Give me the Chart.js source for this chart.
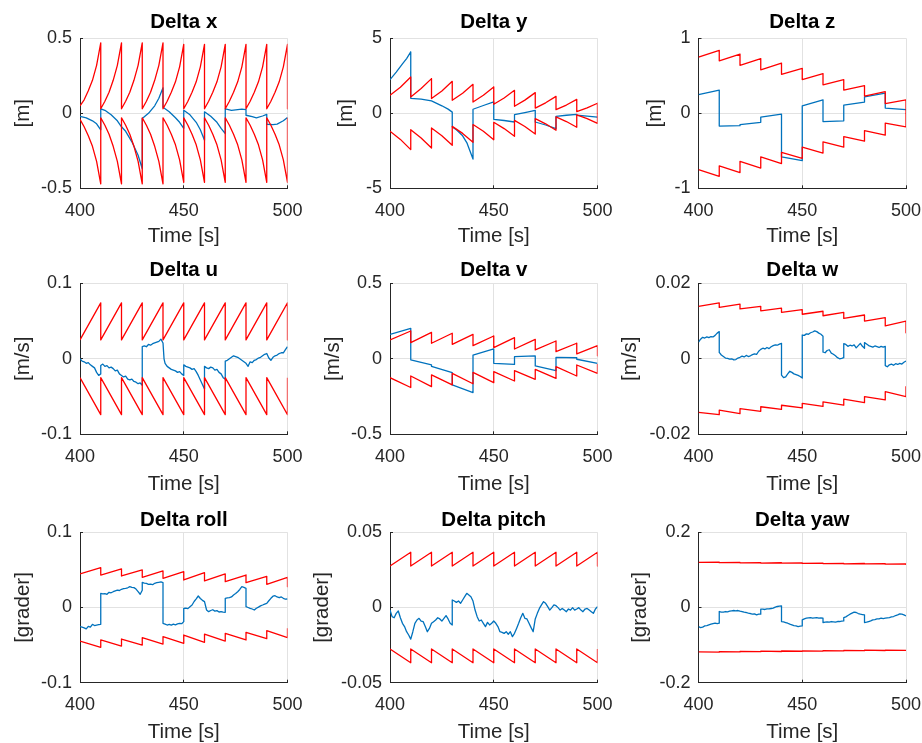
<!DOCTYPE html>
<html>
<head>
<meta charset="utf-8">
<script src="https://cdn.jsdelivr.net/npm/chart.js@4.4.0/dist/chart.umd.min.js"></script>
<style>
  html, body { margin: 0; padding: 0; background: #ffffff; overflow: hidden; }
  #fig { position: relative; width: 922px; height: 743px; overflow: hidden; background: #ffffff; }
  #fig canvas { position: absolute; }
</style>
</head>
<body>
<div id="fig"></div>
<script>
// ---------------- shared axes ----------------
const xTicks = [400, 450, 500];
const xTickText = ['400', '450', '500'];

// time base of the piecewise-linear bounds: start/end of every 10 s window, reset at each step
const tSaw = [400,410, 410,420, 420,430, 430,440, 440,450, 450,460, 460,470, 470,480, 480,490, 490,500, 500];
// finer time base for the curved position bounds
const tSawX = [400,402,404,406,408,410, 410,412,414,416,418,420, 420,422,424,426,428,430,
               430,432,434,436,438,440, 440,442,444,446,448,450, 450,452,454,456,458,460,
               460,462,464,466,468,470, 470,472,474,476,478,480, 480,482,484,486,488,490,
               490,492,494,496,498,500, 500];
const tSawY = [400,405,410, 410,415,420, 420,425,430, 430,435,440, 440,445,450,
               450,455,460, 460,465,470, 470,475,480, 480,485,490, 490,495,500, 500];

// ---------------- Delta x [m] ----------------
const xUp = [0.05,0.09,0.15,0.22,0.32,0.47, 0.03,0.08,0.14,0.22,0.32,0.47, 0.03,0.08,0.14,0.22,0.32,0.47,
             0.03,0.08,0.14,0.22,0.32,0.47, 0.03,0.08,0.14,0.21,0.31,0.46, 0.03,0.08,0.14,0.21,0.31,0.46,
             0.03,0.08,0.14,0.21,0.31,0.46, 0.03,0.08,0.14,0.21,0.31,0.46, 0.03,0.08,0.14,0.21,0.31,0.46,
             0.03,0.08,0.14,0.21,0.31,0.46, 0.03];
const xLo = [-0.04,-0.09,-0.15,-0.22,-0.32,-0.47, -0.03,-0.08,-0.14,-0.22,-0.32,-0.47, -0.03,-0.08,-0.14,-0.22,-0.32,-0.47,
             -0.03,-0.08,-0.14,-0.22,-0.32,-0.47, -0.03,-0.08,-0.14,-0.21,-0.31,-0.46, -0.03,-0.08,-0.14,-0.21,-0.31,-0.46,
             -0.03,-0.08,-0.14,-0.21,-0.31,-0.46, -0.03,-0.08,-0.14,-0.21,-0.31,-0.46, -0.03,-0.08,-0.14,-0.21,-0.31,-0.46,
             -0.03,-0.08,-0.14,-0.21,-0.31,-0.46, -0.03];
const xEst = [[400,-0.02],[403,-0.03],[406,-0.05],[408,-0.07],[410,-0.11],
  [410,0.03],[412,0.02],[415,-0.01],[418,-0.05],[420,-0.09],[422,-0.12],[425,-0.19],[428,-0.28],[430,-0.37],
  [430,-0.035],[433,0.0],[436,0.05],[438,0.10],[440,0.17],
  [440,0.04],[443,0.01],[446,-0.03],[448,-0.06],[450,-0.10],
  [450,0.02],[453,-0.01],[456,-0.06],[458,-0.11],[460,-0.18],
  [460,0.01],[463,-0.02],[466,-0.06],[468,-0.10],[470,-0.135],
  [470,0.03],[473,0.02],[476,0.025],[478,0.028],[480,0.025],
  [480,-0.013],[483,-0.022],[485,-0.03],[488,-0.018],[490,-0.007],
  [490,-0.073],[493,-0.075],[495,-0.072],[498,-0.05],[500,-0.028]];

// ---------------- Delta y [m] ----------------
const yUp = [1.20,1.74,2.42, 1.09,1.65,2.31, 0.98,1.49,2.13, 0.87,1.34,1.93, 0.75,1.20,1.76,
             0.60,1.02,1.53, 0.47,0.88,1.38, 0.35,0.70,1.13, 0.24,0.55,0.93, 0.11,0.36,0.67, 0.0];
const yLo = [-1.20,-1.74,-2.42, -1.09,-1.65,-2.31, -0.98,-1.49,-2.13, -0.87,-1.34,-1.93, -0.75,-1.20,-1.76,
             -0.60,-1.02,-1.53, -0.47,-0.88,-1.38, -0.35,-0.70,-1.13, -0.24,-0.55,-0.93, -0.11,-0.36,-0.67, 0.0];
const yEst = [[400,2.24],[403,2.75],[406,3.3],[408,3.65],[410,4.09],
  [410,1.0],[415,0.95],[420,0.83],[422,0.70],[425,0.50],[428,0.28],[430,0.08],
  [430,-0.91],[432,-1.1],[435,-1.5],[437,-1.95],[440,-3.05],
  [440,0.27],[445,0.52],[450,0.76],
  [450,-0.40],[455,-0.48],[460,-0.58],
  [460,-0.09],[465,0.05],[470,0.20],
  [470,-0.58],[475,-0.78],[480,-1.02],
  [480,-0.20],[485,-0.13],[490,-0.07],
  [490,-0.13],[495,-0.19],[500,-0.25]];

// ---------------- Delta z [m] ----------------
const zUp = [0.75,0.84, 0.70,0.79, 0.64,0.73, 0.58,0.67, 0.52,0.60, 0.45,0.53, 0.38,0.45, 0.31,0.37, 0.23,0.29, 0.13,0.18, 0.0];
const zLo = [-0.75,-0.84, -0.70,-0.79, -0.64,-0.73, -0.58,-0.67, -0.52,-0.60, -0.45,-0.53, -0.38,-0.45, -0.31,-0.37, -0.23,-0.29, -0.13,-0.18, 0.0];
const zEst = [[400,0.25],[410,0.31],[410,-0.17],[420,-0.165],[420,-0.15],[430,-0.12],[430,-0.05],[440,-0.01],
  [440,-0.58],[450,-0.63],[450,0.10],[460,0.18],[460,-0.11],[470,-0.10],[470,0.11],[480,0.15],
  [480,0.22],[490,0.27],[490,0.07],[500,0.05]];

// ---------------- Delta u [m/s] ----------------
const uUp = [0.025,0.074, 0.025,0.074, 0.025,0.074, 0.025,0.074, 0.025,0.074, 0.025,0.074, 0.025,0.074, 0.025,0.074, 0.025,0.074, 0.025,0.074, 0.025];
const uLo = [-0.025,-0.074, -0.025,-0.074, -0.025,-0.074, -0.025,-0.074, -0.025,-0.074, -0.025,-0.074, -0.025,-0.074, -0.025,-0.074, -0.025,-0.074, -0.025,-0.074, -0.025];
const uEst = [[400,0.000],[401,-0.003],[402,-0.004],[403,-0.006],[404,-0.005],[405,-0.008],[406,-0.010],[407,-0.012],[408,-0.018],[409,-0.022],[410,-0.020],
  [410,-0.009],[411,-0.007],[412,-0.010],[413,-0.009],[414,-0.012],[415,-0.011],[416,-0.013],[417,-0.016],[418,-0.015],[419,-0.020],[420,-0.022],
  [421,-0.024],[422,-0.023],[423,-0.027],[424,-0.028],[425,-0.027],[426,-0.030],[427,-0.031],[428,-0.033],[429,-0.032],[430,-0.035],
  [430,0.016],[431,0.017],[432,0.016],[433,0.019],[434,0.018],[435,0.020],[436,0.021],[437,0.022],[438,0.023],[439,0.026],[440,0.021],
  [440.5,0.000],[441,-0.006],[442,-0.010],[443,-0.012],[444,-0.014],[445,-0.015],[446,-0.016],[447,-0.018],[448,-0.017],[449,-0.020],[450,-0.022],
  [450,-0.008],[451,-0.010],[452,-0.011],[453,-0.012],[454,-0.014],[455,-0.013],[456,-0.017],[457,-0.022],[458,-0.028],[459,-0.034],[460,-0.040],
  [460,-0.010],[461,-0.012],[462,-0.013],[463,-0.011],[464,-0.012],[465,-0.015],[466,-0.014],[467,-0.018],[468,-0.020],[469,-0.025],[470,-0.027],
  [470,-0.003],[471,-0.002],[472,0.000],[473,0.002],[474,0.004],[475,0.003],[476,0.002],[477,0.000],[478,-0.002],[479,-0.004],[480,-0.006],
  [481,-0.010],[482,-0.004],[483,-0.005],[484,-0.002],[485,-0.001],[486,0.001],[487,0.002],[488,0.004],[489,0.006],[490,0.007],
  [491,0.001],[492,-0.002],[493,0.002],[494,0.004],[495,0.005],[496,0.007],[497,0.008],[498,0.008],[499,0.012],[500,0.016]];

// ---------------- Delta v [m/s] ----------------
const vUp = [0.125,0.184, 0.107,0.175, 0.103,0.169, 0.096,0.162, 0.087,0.151, 0.074,0.140, 0.065,0.129, 0.059,0.118, 0.047,0.103, 0.032,0.087, 0.020];
const vLo = [-0.125,-0.190, -0.114,-0.184, -0.107,-0.173, -0.096,-0.165, -0.090,-0.158, -0.085,-0.147, -0.078,-0.136, -0.070,-0.130, -0.052,-0.114, -0.041,-0.096, -0.034];
const vEst = [[400,0.162],[410,0.202],[410,-0.007],[420,-0.040],[420,-0.050],[430,-0.092],[430,-0.173],[440,-0.224],
  [440,0.025],[450,0.065],[450,-0.030],[460,-0.037],[460,0.014],[470,0.019],[470,-0.047],[480,-0.078],
  [480,0.010],[490,0.007],[490,-0.003],[500,-0.030]];

// ---------------- Delta w [m/s] ----------------
const wUp = [0.0139,0.0148, 0.0136,0.0145, 0.0132,0.0139, 0.0127,0.0134, 0.0123,0.0130, 0.0118,0.0126, 0.0114,0.0123, 0.0107,0.0116, 0.0100,0.0109, 0.0087,0.0100, 0.0069];
const wLo = [-0.0142,-0.0148, -0.0136,-0.0145, -0.0132,-0.0139, -0.0127,-0.0134, -0.0123,-0.0130, -0.0118,-0.0126, -0.0114,-0.0123, -0.0107,-0.0116, -0.0100,-0.0109, -0.0087,-0.0100, -0.0073];
const wEst = [[400,0.0044],[401,0.0052],[402,0.0057],[403,0.0055],[404,0.0058],[405,0.0056],[406,0.0059],[407,0.0058],[408,0.0062],[409,0.0068],[410,0.0072],
  [410,0.0017],[411,0.0010],[412,0.0006],[413,0.0002],[414,0.0001],[415,-0.0001],[416,0.0000],[417,-0.0003],[418,-0.0002],[419,0.0002],[420,0.0004],
  [421,0.0007],[422,0.0005],[423,0.0009],[424,0.0006],[425,0.0008],[426,0.0011],[427,0.0013],[428,0.0012],[429,0.0020],[430,0.0025],
  [431,0.0028],[432,0.0026],[433,0.0030],[434,0.0027],[435,0.0032],[436,0.0035],[437,0.0037],[438,0.0036],[439,0.0039],[440,0.0041],
  [440,-0.0043],[441,-0.0050],[442,-0.0048],[443,-0.0040],[444,-0.0033],[445,-0.0036],[446,-0.0040],[447,-0.0042],[448,-0.0044],[449,-0.0047],[450,-0.0051],
  [450,0.0063],[451,0.0062],[452,0.0066],[453,0.0065],[454,0.0069],[455,0.0071],[456,0.0074],[457,0.0072],[458,0.0068],[459,0.0065],[460,0.0060],
  [460,0.0018],[461,0.0016],[462,0.0022],[463,0.0024],[464,0.0015],[465,0.0012],[466,0.0008],[467,0.0003],[468,0.0000],[469,0.0001],[470,0.0003],
  [470,0.0040],[471,0.0038],[472,0.0033],[473,0.0036],[474,0.0034],[475,0.0037],[476,0.0029],[477,0.0035],[478,0.0041],[479,0.0033],[480,0.0028],
  [480,0.0043],[481,0.0039],[482,0.0035],[483,0.0033],[484,0.0031],[485,0.0034],[486,0.0032],[487,0.0030],[488,0.0033],[489,0.0031],[490,0.0033],
  [490,-0.0018],[491,-0.0021],[492,-0.0016],[493,-0.0014],[494,-0.0017],[495,-0.0013],[496,-0.0015],[497,-0.0012],[498,-0.0014],[499,-0.0009],[500,-0.0006]];

// ---------------- Delta roll [grader] ----------------
const rUp = [0.0446,0.0530, 0.0432,0.0512, 0.0419,0.0499, 0.0401,0.0486, 0.0388,0.0477, 0.0366,0.0463, 0.0353,0.0446, 0.0344,0.0432, 0.0330,0.0415, 0.0308,0.0401, 0.0277];
const rLo = [-0.0446,-0.0530, -0.0432,-0.0512, -0.0419,-0.0499, -0.0401,-0.0486, -0.0388,-0.0477, -0.0366,-0.0463, -0.0353,-0.0446, -0.0344,-0.0432, -0.0330,-0.0415, -0.0308,-0.0401, -0.0277];
const rEst = [[400,-0.0255],[401,-0.0262],[402,-0.0270],[403,-0.0285],[404,-0.0250],[405,-0.0262],[406,-0.0225],[407,-0.0240],[408,-0.0233],[409,-0.0228],[410,-0.0224],
  [410,0.0188],[411,0.0180],[412,0.0185],[413,0.0176],[414,0.0202],[415,0.0196],[416,0.0210],[417,0.0222],[418,0.0232],[419,0.0226],[420,0.0242],
  [421,0.0250],[422,0.0255],[423,0.0262],[424,0.0277],[425,0.0268],[426,0.0264],[427,0.0245],[428,0.0212],[429,0.0176],[430,0.0230],
  [430,0.0335],[431,0.0325],[432,0.0320],[433,0.0308],[434,0.0312],[435,0.0303],[436,0.0322],[437,0.0330],[438,0.0335],[439,0.0340],[440,0.0330],
  [440,-0.0211],[441,-0.0220],[442,-0.0233],[443,-0.0225],[444,-0.0235],[445,-0.0222],[446,-0.0230],[447,-0.0218],[448,-0.0211],[449,-0.0215],[450,-0.0188],
  [450,-0.0011],[451,-0.0008],[452,-0.0015],[453,0.0010],[454,0.0033],[455,0.0080],[456,0.0115],[457,0.0153],[458,0.0120],[459,0.0095],[460,0.0078],
  [461,-0.0033],[462,-0.0055],[463,-0.0040],[464,-0.0030],[465,-0.0048],[466,-0.0042],[467,-0.0060],[468,-0.0055],[469,-0.0062],[470,-0.0064],
  [470,0.0122],[471,0.0128],[472,0.0131],[473,0.0140],[474,0.0166],[475,0.0185],[476,0.0210],[477,0.0240],[478,0.0277],[479,0.0268],[480,0.0255],
  [480,0.0011],[481,0.0000],[482,-0.0011],[483,-0.0020],[484,-0.0033],[485,-0.0010],[486,0.0005],[487,0.0022],[488,0.0033],[489,0.0045],[490,0.0055],
  [491,0.0090],[492,0.0122],[493,0.0150],[494,0.0157],[495,0.0140],[496,0.0130],[497,0.0140],[498,0.0122],[499,0.0110],[500,0.0113]];

// ---------------- Delta pitch [grader] ----------------
const pUp = [0.0276,0.0367, 0.0276,0.0367, 0.0276,0.0367, 0.0276,0.0367, 0.0276,0.0367, 0.0276,0.0367, 0.0276,0.0367, 0.0276,0.0367, 0.0276,0.0367, 0.0276,0.0367, 0.0276];
const pLo = [-0.0276,-0.0367, -0.0276,-0.0367, -0.0276,-0.0367, -0.0276,-0.0367, -0.0276,-0.0367, -0.0276,-0.0367, -0.0276,-0.0367, -0.0276,-0.0367, -0.0276,-0.0367, -0.0276,-0.0367, -0.0276];
const pEst = [[400,-0.0017],[401,-0.0061],[402,-0.0068],[403,-0.0039],[404,-0.0023],[405,-0.0068],[406,-0.0105],[407,-0.0127],[408,-0.0161],[409,-0.0183],[410,-0.0210],
  [411,-0.0161],[412,-0.0105],[413,-0.0083],[414,-0.0072],[415,-0.0090],[416,-0.0094],[417,-0.0127],[418,-0.0161],[419,-0.0139],[420,-0.0105],
  [421,-0.0094],[422,-0.0083],[423,-0.0068],[424,-0.0076],[425,-0.0090],[426,-0.0072],[427,-0.0054],[428,-0.0076],[429,-0.0105],[430,-0.0116],
  [430,0.0050],[431,0.0043],[432,0.0034],[433,0.0043],[434,0.0028],[435,0.0050],[436,0.0072],[437,0.0094],[438,0.0083],[439,0.0072],[440,0.0043],
  [441,-0.0017],[442,-0.0061],[443,-0.0090],[444,-0.0083],[445,-0.0105],[446,-0.0127],[447,-0.0099],[448,-0.0116],[449,-0.0105],[450,-0.0090],
  [451,-0.0105],[452,-0.0127],[453,-0.0161],[454,-0.0165],[455,-0.0172],[456,-0.0161],[457,-0.0178],[458,-0.0161],[459,-0.0194],[460,-0.0172],
  [461,-0.0139],[462,-0.0105],[463,-0.0068],[464,-0.0039],[465,-0.0072],[466,-0.0076],[467,-0.0105],[468,-0.0134],[469,-0.0161],[470,-0.0076],
  [471,-0.0039],[472,-0.0006],[473,0.0017],[474,0.0039],[475,0.0028],[476,0.0006],[477,-0.0017],[478,-0.0001],[479,0.0017],[480,0.0012],
  [481,-0.0001],[482,-0.0017],[483,-0.0006],[484,-0.0017],[485,-0.0028],[486,-0.0010],[487,-0.0017],[488,-0.0001],[489,-0.0017],[490,-0.0010],
  [491,-0.0001],[492,-0.0017],[493,-0.0028],[494,-0.0010],[495,-0.0006],[496,-0.0017],[497,-0.0028],[498,-0.0039],[499,-0.0010],[500,0.0006]];

// ---------------- Delta yaw [grader] ----------------
const yawUp = [0.1200,0.1207, 0.1192,0.1200, 0.1188,0.1195, 0.1182,0.1190, 0.1178,0.1185, 0.1172,0.1180, 0.1168,0.1175, 0.1162,0.1170, 0.1158,0.1165, 0.1152,0.1160, 0.1146];
const yawLo = [-0.1180,-0.1187, -0.1173,-0.1180, -0.1168,-0.1175, -0.1162,-0.1170, -0.1157,-0.1164, -0.1152,-0.1159, -0.1146,-0.1154, -0.1142,-0.1149, -0.1136,-0.1144, -0.1132,-0.1139, -0.1126];
const yawEst = [[400,-0.0507],[401,-0.0533],[402,-0.0524],[403,-0.0489],[404,-0.0480],[405,-0.0462],[406,-0.0444],[407,-0.0427],[408,-0.0418],[409,-0.0427],[410,-0.0418],
  [410,-0.0107],[411,-0.0124],[412,-0.0124],[413,-0.0107],[414,-0.0116],[415,-0.0098],[416,-0.0089],[417,-0.0080],[418,-0.0089],[419,-0.0080],[420,-0.0098],
  [421,-0.0107],[422,-0.0124],[423,-0.0133],[424,-0.0151],[425,-0.0160],[426,-0.0178],[427,-0.0169],[428,-0.0196],[429,-0.0178],[430,-0.0178],
  [430,-0.0044],[431,-0.0044],[432,-0.0053],[433,-0.0036],[434,-0.0036],[435,-0.0027],[436,-0.0018],[437,0.0009],[438,0.0027],[439,0.0036],[440,0.0044],
  [440,-0.0373],[441,-0.0382],[442,-0.0400],[443,-0.0418],[444,-0.0444],[445,-0.0462],[446,-0.0480],[447,-0.0489],[448,-0.0507],[449,-0.0498],[450,-0.0489],
  [450,-0.0329],[451,-0.0302],[452,-0.0284],[453,-0.0276],[454,-0.0267],[455,-0.0284],[456,-0.0276],[457,-0.0267],[458,-0.0284],[459,-0.0276],[460,-0.0284],
  [460,-0.0400],[461,-0.0391],[462,-0.0382],[463,-0.0391],[464,-0.0373],[465,-0.0382],[466,-0.0391],[467,-0.0373],[468,-0.0373],[469,-0.0364],[470,-0.0356],
  [470,-0.0267],[471,-0.0249],[472,-0.0213],[473,-0.0178],[474,-0.0151],[475,-0.0124],[476,-0.0133],[477,-0.0160],[478,-0.0178],[479,-0.0187],[480,-0.0196],
  [480,-0.0400],[481,-0.0391],[482,-0.0373],[483,-0.0356],[484,-0.0329],[485,-0.0320],[486,-0.0302],[487,-0.0302],[488,-0.0284],[489,-0.0293],[490,-0.0284],
  [491,-0.0276],[492,-0.0267],[493,-0.0249],[494,-0.0240],[495,-0.0213],[496,-0.0196],[497,-0.0169],[498,-0.0178],[499,-0.0196],[500,-0.0222]];

// ---------------- figure layout (pixels) ----------------
const FONT = "'Liberation Sans', Arial, Helvetica, sans-serif";
const TICK_SIZE = 18, LABEL_SIZE = 20.5, TITLE_SIZE = 20.5, LH = 1.2;
const AXIS_COLOR = '#262626', GRID_COLOR = '#e2e2e2';
const EST_COLOR = '#0072bd', BOUND_COLOR = '#ff0000';
const LINE_WIDTH = 1.3;

const CANVAS_X = [[0, 310], [310, 612], [612, 922]];
const CANVAS_Y = [[0, 252], [252, 500], [500, 760]];
const PLOT_X = [[80, 287.5], [390, 597.5], [698.5, 906]];
const PLOT_Y = [[38.3, 188.3], [283.3, 434.3], [532.3, 682.7]];
const TITLE_Y = [22.2, 270, 520.5];
const XLABEL_Y = [236.7, 484.7, 732.7];
const XTICK_OFFSET = 22.5;   // tick label centre below the x axis
const YTICK_GAP = 8;         // gap between y tick labels and the y axis
const INNER_TICK = 3;

function pts(t, v) { return t.map((x, i) => ({ x: x, y: v[i] })); }
function pairs(a) { return a.map(p => ({ x: p[0], y: p[1] })); }

const panels = [
  { title: 'Delta x', unit: '[m]', lim: 0.5, yTickText: ['-0.5', '0', '0.5'], yLabelX: 23,
    up: pts(tSawX, xUp), lo: pts(tSawX, xLo), est: pairs(xEst) },
  { title: 'Delta y', unit: '[m]', lim: 5, yTickText: ['-5', '0', '5'], yLabelX: 346.7,
    up: pts(tSawY, yUp), lo: pts(tSawY, yLo), est: pairs(yEst) },
  { title: 'Delta z', unit: '[m]', lim: 1, yTickText: ['-1', '0', '1'], yLabelX: 655,
    up: pts(tSaw, zUp), lo: pts(tSaw, zLo), est: pairs(zEst) },
  { title: 'Delta u', unit: '[m/s]', lim: 0.1, yTickText: ['-0.1', '0', '0.1'], yLabelX: 23,
    up: pts(tSaw, uUp), lo: pts(tSaw, uLo), est: pairs(uEst) },
  { title: 'Delta v', unit: '[m/s]', lim: 0.5, yTickText: ['-0.5', '0', '0.5'], yLabelX: 333,
    up: pts(tSaw, vUp), lo: pts(tSaw, vLo), est: pairs(vEst) },
  { title: 'Delta w', unit: '[m/s]', lim: 0.02, yTickText: ['-0.02', '0', '0.02'], yLabelX: 630,
    up: pts(tSaw, wUp), lo: pts(tSaw, wLo), est: pairs(wEst) },
  { title: 'Delta roll', unit: '[grader]', lim: 0.1, yTickText: ['-0.1', '0', '0.1'], yLabelX: 23,
    up: pts(tSaw, rUp), lo: pts(tSaw, rLo), est: pairs(rEst) },
  { title: 'Delta pitch', unit: '[grader]', lim: 0.05, yTickText: ['-0.05', '0', '0.05'], yLabelX: 322,
    up: pts(tSaw, pUp), lo: pts(tSaw, pLo), est: pairs(pEst) },
  { title: 'Delta yaw', unit: '[grader]', lim: 0.2, yTickText: ['-0.2', '0', '0.2'], yLabelX: 640,
    up: pts(tSaw, yawUp), lo: pts(tSaw, yawLo), est: pairs(yawEst) }
];

const fig = document.getElementById('fig');

function lineSet(data, color) {
  return { data: data, borderColor: color, borderWidth: LINE_WIDTH, pointRadius: 0, tension: 0,
           borderJoinStyle: 'round', fill: false };
}

function zeroPadding(s) { s.paddingLeft = 0; s.paddingRight = 0; s.paddingTop = 0; s.paddingBottom = 0; }

panels.forEach((p, idx) => {
  const row = Math.floor(idx / 3), col = idx % 3;
  const [cx0, cx1] = CANVAS_X[col], [cy0, cy1] = CANVAS_Y[row];
  const [pl, pr] = PLOT_X[col], [pt, pb] = PLOT_Y[row];
  const cw = cx1 - cx0, ch = cy1 - cy0;

  const canvas = document.createElement('canvas');
  canvas.width = cw; canvas.height = ch;
  canvas.style.left = cx0 + 'px'; canvas.style.top = cy0 + 'px';
  canvas.style.width = cw + 'px'; canvas.style.height = ch + 'px';
  fig.appendChild(canvas);

  const titleLH = TITLE_SIZE * LH, labelLH = LABEL_SIZE * LH, tickLH = TICK_SIZE * LH;
  const titlePadTop = TITLE_Y[row] - cy0 - titleLH / 2;
  const titlePadBottom = (pt - cy0) - titlePadTop - titleLH;
  const yAxisWidth = pl - cx0;
  const xAxisHeight = cy1 - pb;
  const rightPad = cx1 - pr;
  const yTicks = [-p.lim, 0, p.lim];

  new Chart(canvas, {
    type: 'line',
    data: { datasets: [lineSet(p.up, BOUND_COLOR), lineSet(p.lo, BOUND_COLOR), lineSet(p.est, EST_COLOR)] },
    options: {
      responsive: false, animation: false, devicePixelRatio: 1, events: [],
      layout: { padding: { left: 0, top: 0, right: rightPad, bottom: 0 }, autoPadding: false },
      plugins: {
        legend: { display: false }, tooltip: { enabled: false },
        title: { display: true, text: p.title, fullSize: false, color: '#000000',
                 font: { family: FONT, size: TITLE_SIZE, weight: 'bold', lineHeight: LH },
                 padding: { top: titlePadTop, bottom: titlePadBottom } }
      },
      scales: {
        x: {
          type: 'linear', min: 400, max: 500,
          afterBuildTicks: s => { s.ticks = xTicks.map(v => ({ value: v })); },
          afterFit: s => { s.height = xAxisHeight; zeroPadding(s); },
          ticks: { callback: (v, i) => xTickText[i], color: AXIS_COLOR, maxRotation: 0, autoSkip: false,
                   font: { family: FONT, size: TICK_SIZE, lineHeight: LH },
                   padding: XTICK_OFFSET + INNER_TICK - tickLH / 2 },
          grid: { color: GRID_COLOR, lineWidth: 1, drawTicks: true, tickLength: -INNER_TICK, tickColor: AXIS_COLOR },
          border: { color: AXIS_COLOR, width: 1 },
          title: { display: true, text: 'Time [s]', color: AXIS_COLOR,
                   font: { family: FONT, size: LABEL_SIZE, lineHeight: LH },
                   padding: { top: 0, bottom: cy1 - XLABEL_Y[row] - labelLH / 2 } }
        },
        y: {
          type: 'linear', min: -p.lim, max: p.lim,
          afterBuildTicks: s => { s.ticks = yTicks.map(v => ({ value: v })); },
          afterFit: s => { s.width = yAxisWidth; zeroPadding(s); },
          ticks: { callback: (v, i) => p.yTickText[i], color: AXIS_COLOR, autoSkip: false,
                   font: { family: FONT, size: TICK_SIZE, lineHeight: LH },
                   padding: YTICK_GAP + INNER_TICK },
          grid: { color: GRID_COLOR, lineWidth: 1, drawTicks: true, tickLength: -INNER_TICK, tickColor: AXIS_COLOR },
          border: { color: AXIS_COLOR, width: 1 },
          title: { display: true, text: p.unit, color: AXIS_COLOR,
                   font: { family: FONT, size: LABEL_SIZE, lineHeight: LH },
                   padding: { top: p.yLabelX - cx0 - labelLH / 2, bottom: 0 } }
        }
      }
    }
  });
});
</script>
</body>
</html>
